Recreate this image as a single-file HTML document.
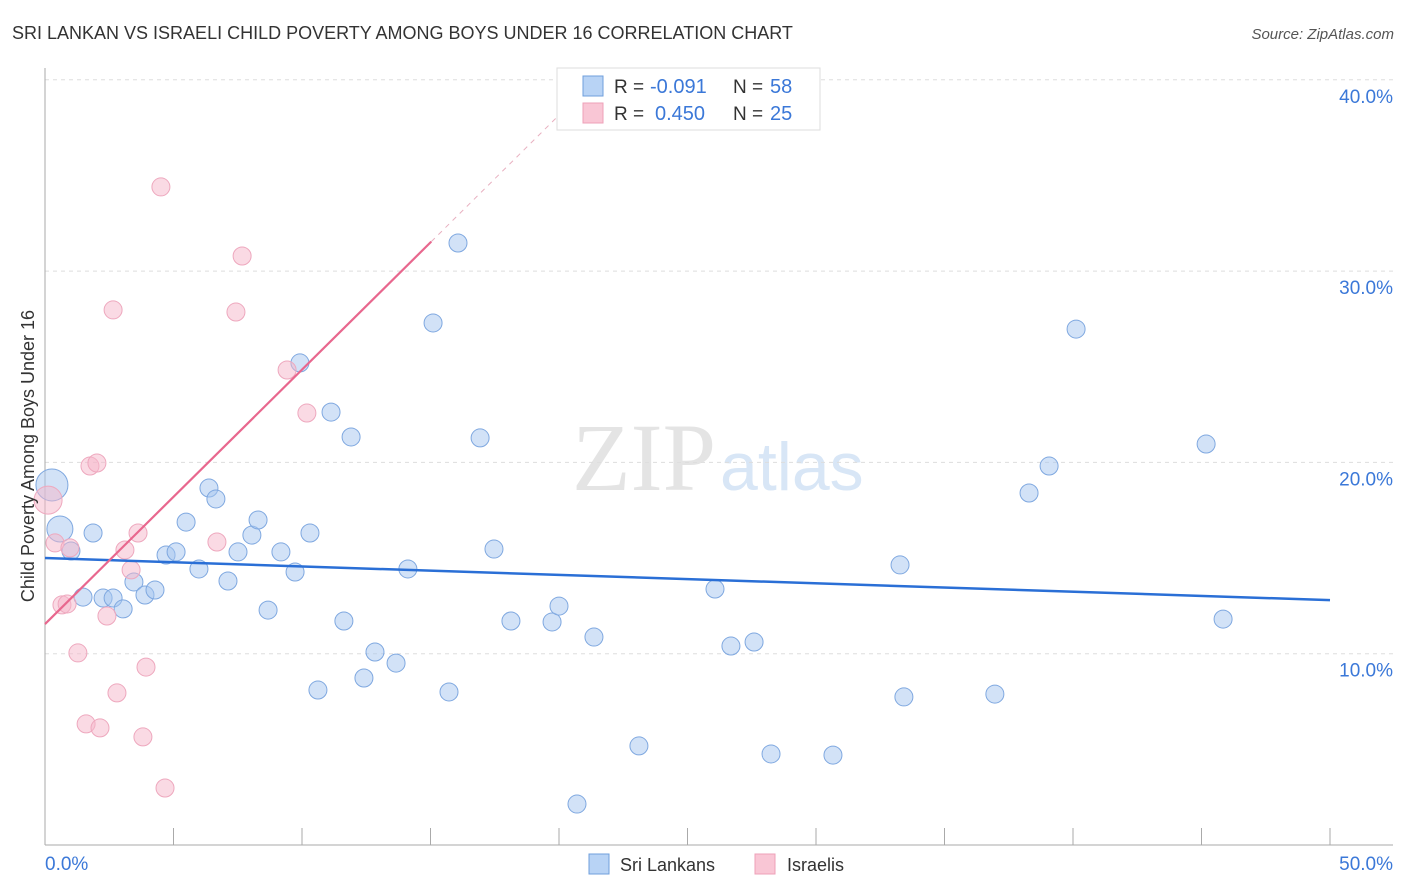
<!DOCTYPE html>
<html><head><meta charset="utf-8"><style>
body{margin:0;background:#fff;font-family:"Liberation Sans",sans-serif}
</style></head><body>
<svg width="1406" height="892" style="display:block">
<text x="12" y="39" font-size="18" fill="#333">SRI LANKAN VS ISRAELI CHILD POVERTY AMONG BOYS UNDER 16 CORRELATION CHART</text>
<text x="1394" y="39" font-size="15" fill="#555" text-anchor="end" font-style="italic">Source: ZipAtlas.com</text>
<text x="716" y="490" font-size="96" fill="#e4e4e4" text-anchor="end" font-family="Liberation Serif,serif">ZIP</text>
<text x="720" y="490" font-size="68" fill="#d8e6f6">atlas</text>
<g id="grid"></g>
<g id="axes"></g>
<g id="marks"></g>
<text transform="translate(34,456) rotate(-90)" font-size="18" fill="#333" text-anchor="middle">Child Poverty Among Boys Under 16</text>
<text x="45" y="870" font-size="19" fill="#3b78d8">0.0%</text>
<text x="1393" y="870" font-size="19" fill="#3b78d8" text-anchor="end">50.0%</text>
<g>
<rect x="557" y="68" width="263" height="62" fill="#fff" stroke="#ddd"/>
<rect x="583" y="76" width="20" height="20" fill="#b8d3f5" stroke="#6f9fdc"/>
<rect x="583" y="103" width="20" height="20" fill="#f9c6d5" stroke="#eea0b8"/>
<text x="614" y="93" font-size="19" fill="#333">R =</text>
<text x="650" y="93" font-size="20" fill="#3b78d8">-0.091</text>
<text x="733" y="93" font-size="19" fill="#333">N =</text>
<text x="770" y="93" font-size="20" fill="#3b78d8">58</text>
<text x="614" y="120" font-size="19" fill="#333">R =</text>
<text x="655" y="120" font-size="20" fill="#3b78d8">0.450</text>
<text x="733" y="120" font-size="19" fill="#333">N =</text>
<text x="770" y="120" font-size="20" fill="#3b78d8">25</text>
</g>
<g>
<rect x="589" y="854" width="20" height="20" fill="#b8d3f5" stroke="#6f9fdc"/>
<text x="620" y="871" font-size="18" fill="#333">Sri Lankans</text>
<rect x="755" y="854" width="20" height="20" fill="#f9c6d5" stroke="#eea0b8"/>
<text x="787" y="871" font-size="18" fill="#333">Israelis</text>
</g>
</svg>
<script>
const yTicks=[10,20,30,40];
const yTickLabels=["10.0%","20.0%","30.0%","40.0%"];
const xTickVals=[5,10,15,20,25,30,35,40,45,50];
const blueX=[0.27,0.58,1.87,1.01,1.48,2.26,2.65,3.04,3.46,3.89,4.28,4.71,5.10,5.49,5.99,6.38,6.65,7.12,7.51,8.05,8.29,8.68,9.18,9.73,9.92,10.31,10.62,11.13,11.63,11.91,12.84,12.41,13.66,14.12,15.10,15.72,16.07,16.93,17.47,18.13,19.73,20.00,20.70,21.36,23.11,26.07,26.69,27.59,28.25,30.66,33.27,33.42,36.96,38.29,39.07,40.12,45.18,45.84];
const blueY=[18.82,16.52,16.31,15.37,12.96,12.91,12.91,12.34,13.75,13.07,13.33,15.16,15.32,16.88,14.43,18.66,18.09,13.80,15.32,16.20,16.99,12.28,15.32,14.27,25.20,16.31,8.10,22.63,11.71,21.33,10.09,8.73,9.51,14.43,27.29,8.00,31.47,21.28,15.47,11.71,11.66,12.49,2.14,10.87,5.18,13.38,10.40,10.61,4.76,4.70,14.64,7.74,7.89,18.40,19.81,26.97,20.96,11.81];
const pinkX=[0.12,0.39,0.97,0.66,0.86,1.28,1.60,1.75,2.02,2.14,2.41,2.65,2.80,3.11,3.35,3.62,3.81,3.93,4.51,4.67,6.69,7.43,7.67,9.42,10.19];
const pinkY=[18.03,15.79,15.53,12.55,12.60,10.04,6.33,19.81,19.97,6.12,11.97,27.97,7.95,15.42,14.38,16.31,5.65,9.30,34.40,2.98,15.84,27.86,30.79,24.83,22.58];
const blueTrend=[15.0,12.8];
const pinkTrend=[11.55,1.33];
const sx=v=>45+v*25.7, sy=v=>845-v*19.13;
const NS="http://www.w3.org/2000/svg";
function mk(t,a,p){const e=document.createElementNS(NS,t);for(const k in a)e.setAttribute(k,a[k]);p.appendChild(e);return e;}
const grid=document.getElementById('grid'),axes=document.getElementById('axes'),marks=document.getElementById('marks');
yTicks.forEach((t,i)=>{
 const l=mk('line',{x1:45,x2:1393,y1:sy(t),y2:sy(t),stroke:'#ddd','stroke-dasharray':'4,4'},grid);
 
 
 const tx=mk('text',{x:1393,y:sy(t)+23,'font-size':19,fill:'#3b78d8','text-anchor':'end'},grid);
 tx.textContent=yTickLabels[i];
 
 
});
let a=mk('line',{x1:45,x2:45,y1:68,y2:845,stroke:'#aaa'},axes);


a=mk('line',{x1:45,x2:1393,y1:845,y2:845,stroke:'#aaa'},axes);


xTickVals.forEach(v=>{
 const t=mk('line',{x1:sx(v),x2:sx(v),y1:828,y2:845,stroke:'#aaa'},axes);
 
 
});
blueX.forEach((x,i)=>{
 const c=mk('circle',{cx:sx(x),cy:sy(blueY[i]),r:(i<2?(i==0?16:13):9),fill:'rgba(165,198,240,0.5)',stroke:'#7fa8e0','stroke-width':1},marks);
 
 
});
pinkX.forEach((x,i)=>{
 const c=mk('circle',{cx:sx(x),cy:sy(pinkY[i]),r:(i==0?14:9),fill:'rgba(246,182,202,0.5)',stroke:'#eea8be','stroke-width':1},marks);
 
 
});
let tl=mk('line',{x1:sx(0),y1:sy(blueTrend[0]),x2:sx(50),y2:sy(blueTrend[1]),stroke:'#2a6fd6','stroke-width':2.5},marks);


const pe=15.03;
tl=mk('line',{x1:sx(0),y1:sy(pinkTrend[0]),x2:sx(pe),y2:sy(pinkTrend[0]+pinkTrend[1]*pe),stroke:'#e8678e','stroke-width':2.2},marks);


const pe2=20;
tl=mk('line',{x1:sx(pe),y1:sy(pinkTrend[0]+pinkTrend[1]*pe),x2:sx(pe2),y2:sy(pinkTrend[0]+pinkTrend[1]*pe2),stroke:'#e8b0c0','stroke-width':1,'stroke-dasharray':'5,5'},marks);


</script>
</body></html>
